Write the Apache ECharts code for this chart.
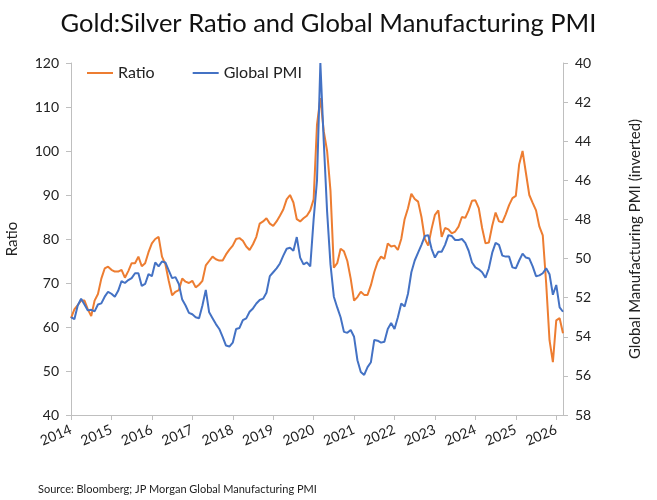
<!DOCTYPE html>
<html>
<head>
<meta charset="utf-8">
<script src="https://cdn.jsdelivr.net/npm/echarts@6/dist/echarts.min.js"></script>
<style>
  html, body { margin: 0; padding: 0; background: #fff; }
  #chart { width: 657px; height: 500px; }
</style>
</head>
<body>
<div id="chart"></div>
<script>
// monthly, Jan 2014 .. Mar 2026
var months = [];
for (var y = 2014; y <= 2026; y++) {
  for (var m = 1; m <= 12; m++) {
    if (y === 2026 && m > 3) break;
    months.push(y + '-' + (m < 10 ? '0' + m : m));
  }
}

// gold:silver ratio (left axis)
var ratio = [
  62, 64, 65, 66, 66, 64, 62.5, 66, 67.5, 71, 73.3, 73.7,
  73, 72.6, 72.6, 73, 71.2, 72.7, 74.5, 74.5, 76, 73.8, 74.5, 77,
  79, 80, 80.5, 76, 74.3, 70.5, 67.2, 68, 68.4, 71, 70.3, 70,
  70.5, 69, 69.6, 70.5, 74, 75, 76, 75.4, 75.1, 75.1, 76.5, 77.6,
  78.5, 80, 80.2, 79.6, 78.3, 77.5, 78.8, 80.5, 83.5, 84, 84.7, 83.5,
  83, 84, 85.3, 86.7, 89, 90, 88.3, 84.5, 84, 84.7, 85.3, 86.5,
  89, 106, 112, 104.5, 100, 91, 73.5, 74.5, 77.8, 77.2, 75, 71,
  66, 66.8, 68, 67.3, 67.3, 69.5, 72.5, 74.8, 76, 75.5, 79, 78.3,
  78.5, 77.5, 80, 84.5, 87, 90.3, 89.1, 88.5, 85, 80, 78.5, 82.3,
  85.5, 86.5, 80.5, 82.5, 82.2, 81.3, 81.7, 82.8, 85, 84.8, 86.5, 88.7,
  88.8, 87, 82.5, 79, 79.2, 83, 86, 84, 83.8, 85.6, 87.7, 89.3,
  89.8, 97, 100, 95, 90, 88.2, 86.5, 82.8, 80.8, 70, 57, 52,
  61.5, 62, 58.6
];

// JPM global manufacturing PMI (right axis, inverted)
var pmi = [
  53.0, 53.1, 52.4, 52.05, 52.35, 52.65, 52.62, 52.7, 52.35, 52.29, 51.95, 51.7,
  51.8, 51.95, 51.65, 51.15, 51.25, 51.1, 51.0, 50.75, 50.75, 51.4, 51.3, 50.8,
  50.9, 50.2, 50.4, 50.15, 50.2, 50.6, 51.0, 50.95, 51.3, 52.1, 52.4, 52.78,
  52.85, 53.0, 53.05, 52.4, 51.6, 52.75, 53.05, 53.35, 53.6, 54.0, 54.45, 54.5,
  54.3, 53.6, 53.55, 53.15, 53.06, 52.72, 52.55, 52.3, 52.12, 52.05, 51.75, 50.9,
  50.7, 50.5, 50.25, 49.85, 49.5, 49.45, 49.6, 48.9, 49.95, 50.3, 50.2, 50.4,
  48.0, 46.0, 40.0, 44.0, 47.6, 50.3, 51.95, 52.5, 53.0, 53.75, 53.8, 53.65,
  54.0, 55.2, 55.8, 55.95, 55.55, 55.3, 54.16, 54.2, 54.3, 54.25, 53.6, 53.3,
  53.6, 53.0, 52.3, 52.45, 51.8, 50.7, 50.1, 49.7, 49.3, 48.85, 48.8, 49.5,
  49.95, 49.65, 49.65, 49.3, 48.8, 48.85, 49.05, 49.05, 49.0, 49.2, 49.6, 50.2,
  50.45, 50.55, 50.7, 50.98, 50.5, 49.7, 49.2, 49.3, 49.85, 49.9, 49.9, 50.45,
  50.5, 50.1, 49.75, 49.95, 50.0, 50.4, 50.9, 50.86, 50.75, 50.5, 50.8, 51.85,
  51.35, 52.5, 52.72
];

var FONT = 'Lato';
var TXT = '#222';
var AXIS = '#bfbfbf';

function isYearStart(idx) {
  return idx % 12 === 0;
}

var chart = echarts.init(document.getElementById('chart'), null, { renderer: 'canvas' });

var option = {
  animation: false,
  textStyle: { fontFamily: FONT },
  title: [{
    text: 'Gold:Silver Ratio and Global Manufacturing PMI',
    left: 'center',
    top: 6,
    textStyle: { fontFamily: FONT, fontSize: 25.5, fontWeight: 'normal', color: '#111' }
  }, {
    text: 'Source: Bloomberg; JP Morgan Global Manufacturing PMI',
    left: 33,
    top: 479,
    textStyle: { fontFamily: FONT, fontSize: 11, fontWeight: 'normal', color: TXT }
  }],
  legend: {
    left: 82,
    top: 60,
    itemGap: 38,
    itemWidth: 26,
    itemHeight: 2,
    icon: 'rect',
    textStyle: { fontFamily: FONT, fontSize: 16, color: TXT },
    data: ['Ratio', 'Global PMI']
  },
  grid: { left: 71, right: 94, top: 63, bottom: 85, containLabel: false, outerBoundsMode: 'none' },
  xAxis: {
    type: 'category',
    data: months,
    boundaryGap: false,
    axisLine: { lineStyle: { color: AXIS } },
    axisTick: { interval: isYearStart, length: 5, lineStyle: { color: AXIS } },
    axisLabel: {
      interval: isYearStart,
      rotate: 23,
      fontSize: 14,
      color: TXT,
      fontFamily: FONT,
      margin: 14,
      formatter: function (v) { return v.substring(0, 4); }
    },
    splitLine: { show: false }
  },
  yAxis: [{
    type: 'value',
    min: 40,
    max: 120,
    interval: 10,
    name: 'Ratio',
    nameLocation: 'middle',
    nameGap: 51,
    nameTextStyle: { fontFamily: FONT, fontSize: 15, color: TXT },
    axisLine: { show: true, lineStyle: { color: AXIS } },
    axisTick: { show: true, length: 5, lineStyle: { color: AXIS } },
    axisLabel: { fontSize: 14, color: TXT, fontFamily: FONT, margin: 12 },
    splitLine: { show: false }
  }, {
    type: 'value',
    min: 40,
    max: 58,
    interval: 2,
    inverse: true,
    position: 'right',
    name: 'Global Manufacturing PMI (inverted)',
    nameLocation: 'middle',
    nameGap: 65,
    nameRotate: 90,
    nameTextStyle: { fontFamily: FONT, fontSize: 15, color: TXT },
    axisLine: { show: true, lineStyle: { color: AXIS } },
    axisTick: { show: true, length: 5, lineStyle: { color: AXIS } },
    axisLabel: { fontSize: 14, color: TXT, fontFamily: FONT, margin: 12 },
    splitLine: { show: false }
  }],
  series: [{
    name: 'Ratio',
    type: 'line',
    yAxisIndex: 0,
    data: ratio,
    symbol: 'none',
    lineStyle: { width: 2, color: '#ED7D31' },
    itemStyle: { color: '#ED7D31' }
  }, {
    name: 'Global PMI',
    type: 'line',
    yAxisIndex: 1,
    data: pmi,
    symbol: 'none',
    lineStyle: { width: 2, color: '#4472C4' },
    itemStyle: { color: '#4472C4' }
  }]
};

chart.setOption(option);
</script>
</body>
</html>
